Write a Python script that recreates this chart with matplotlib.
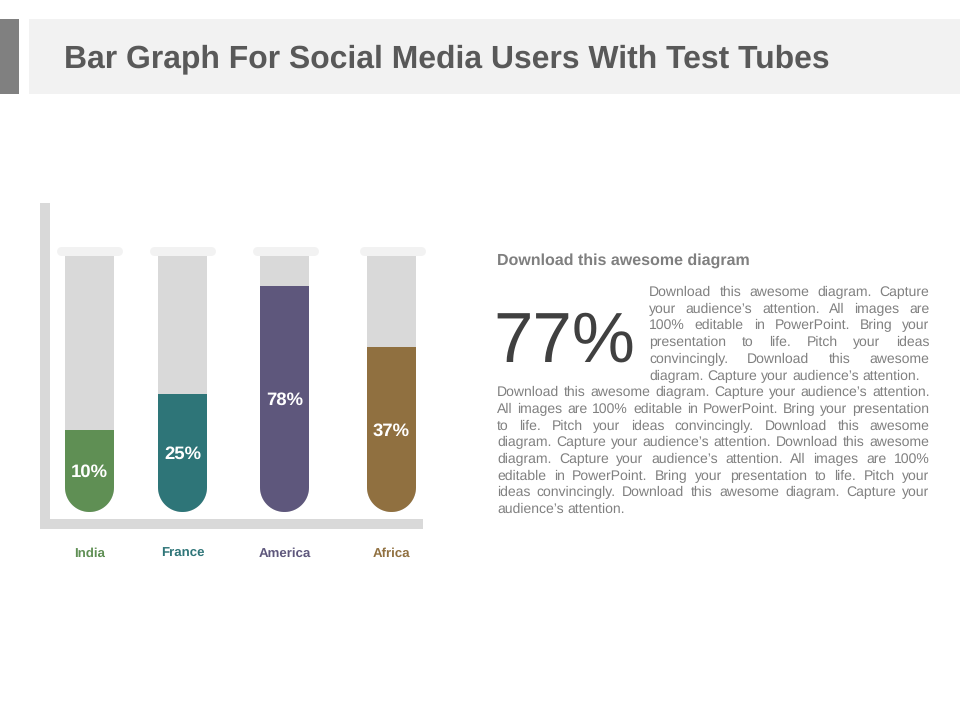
import numpy as np
import matplotlib
matplotlib.use("Agg")
import matplotlib.pyplot as plt
from matplotlib.patches import Rectangle
from matplotlib.path import Path

plt.rcParams["font.family"] = ["Liberation Sans", "DejaVu Sans"]
plt.rcParams["text.hinting"] = "no_hinting"

# --- Data ---
countries = ["India", "France", "America", "Africa"]
value_labels = ["10%", "25%", "78%", "37%"]
# fill height as share of the tube (not the printed value)
fill_levels = [32.0, 46.1, 88.3, 64.5]
tube_x = [89.5, 182.5, 284.5, 391.5]
lip_x = [89, 182, 285, 392]
colors = ["#5f8f54", "#2e7578", "#5e577c", "#907040"]

title = "Bar Graph For Social Media Users With Test Tubes"
subhead = "Download this awesome diagram"
big_number = "77%"
wrapped_lines = [
    "Download this awesome diagram. Capture",
    "your audience’s attention. All images are",
    "100% editable in PowerPoint. Bring your",
    "presentation to life. Pitch your ideas",
    "convincingly. Download this awesome",
    "diagram. Capture your audience’s attention.",
]
full_lines = [
    "Download this awesome diagram. Capture your audience’s attention.",
    "All images are 100% editable in PowerPoint. Bring your presentation",
    "to life. Pitch your ideas convincingly. Download this awesome",
    "diagram. Capture your audience’s attention. Download this awesome",
    "diagram. Capture your audience’s attention. All images are 100%",
    "editable in PowerPoint. Bring your presentation to life. Pitch your",
    "ideas convincingly. Download this awesome diagram. Capture your",
    "audience’s attention.",
]

GREY = "#d9d9d9"
PALE = "#f2f2f2"
TEXT_GREY = "#808080"
W, H = 960, 720
TUBE_W = 49
px = 0.72  # one pixel in points at dpi 100

fig = plt.figure(figsize=(W / 100, H / 100), dpi=100, facecolor="white")


def fx(x):
    return x / W


def fy(y):
    return 1 - y / H


def add_rect(x0, y0, x1, y1, color):
    fig.add_artist(Rectangle((fx(x0), fy(y1)), (x1 - x0) / W, (y1 - y0) / H,
                             transform=fig.transFigure, color=color, lw=0))


# Header
add_rect(0, 19, 19, 94, "#808080")
add_rect(29, 19, 960, 94, PALE)
fig.text(fx(64), fy(67), title, fontsize=22.95, fontweight="bold", color="#595959")

# Tubes: y axis runs 0-100 from tube bottom to tube top, 2.56 px per unit
ax = fig.add_axes([fx(45), fy(524), 373 / W, 316 / H])
ax.patch.set_alpha(0)
ax.set_xlim(45, 418)
ax.set_ylim(-12 / 2.56, 304 / 2.56)
for side in ["top", "right"]:
    ax.spines[side].set_visible(False)
for side in ["left", "bottom"]:
    ax.spines[side].set_color(GREY)
    ax.spines[side].set_linewidth(10 * px)
ax.set_yticks([])
ax.set_xticks(tube_x, countries, fontsize=9.5, fontweight="bold")
ax.tick_params(axis="x", length=0, pad=23.76)
for lab, c in zip(ax.get_xticklabels(), colors):
    lab.set_color(c)
    lab.set_verticalalignment("baseline")


def tube_path(xc):
    r = TUBE_W / 2
    ry = r / 2.56
    t = np.linspace(np.pi, 2 * np.pi, 40)
    xs = np.r_[xc - r, xc + r * np.cos(t), xc + r, xc - r]
    ys = np.r_[100, ry + ry * np.sin(t), 100, 100]
    return Path(np.column_stack([xs, ys]))


for xc, lx, level, c, lab in zip(tube_x, lip_x, fill_levels, colors, value_labels):
    clip = tube_path(xc)
    back = ax.bar(xc, 100, width=TUBE_W, color=GREY, lw=0)[0]
    front = ax.bar(xc, level, width=TUBE_W, color=c, lw=0)[0]
    back.set_clip_path(clip, ax.transData)
    front.set_clip_path(clip, ax.transData)
    # lip of the tube
    ax.plot([lx - 28.5, lx + 28.5], [101.8, 101.8], color=PALE, lw=9 * px,
            solid_capstyle="round", clip_on=False)
    ax.text(xc, level / 2 - 0.6, lab, ha="center", va="center", color="white",
            fontsize=13.3, fontweight="bold")

# Right hand text
fig.text(fx(497), fy(265), subhead, fontsize=11.55, fontweight="bold", color="#7f7f7f")
fig.text(fx(493), fy(362), big_number, fontsize=51, color="#404040")

renderer = fig.canvas.get_renderer()


def draw_line(line, x0, x1, y, justify):
    # word by word so the block edges line up like justified text
    words = line.split(" ")
    y = round(y)
    items = [fig.text(fx(x0), fy(y), w, fontsize=BODY_SIZE, color=TEXT_GREY) for w in words]
    widths = [t.get_window_extent(renderer).width for t in items]
    space = BODY_SIZE / px * 0.278
    if justify and len(words) > 1:
        space = (x1 - x0 - sum(widths)) / (len(words) - 1)
    x = x0
    for t, w in zip(items, widths):
        t.set_x(fx(x))
        x += w + space


BODY_SIZE = 10.1
LINE_STEP = 16.7
for i, line in enumerate(wrapped_lines):
    draw_line(line, 649, 929.5, 296 + i * LINE_STEP, i < len(wrapped_lines) - 1)
for i, line in enumerate(full_lines):
    row = i + len(wrapped_lines)
    draw_line(line, 497, 929.5, 296 + row * LINE_STEP, i < len(full_lines) - 1)

fig.savefig("out.png", dpi=100, facecolor="white")
